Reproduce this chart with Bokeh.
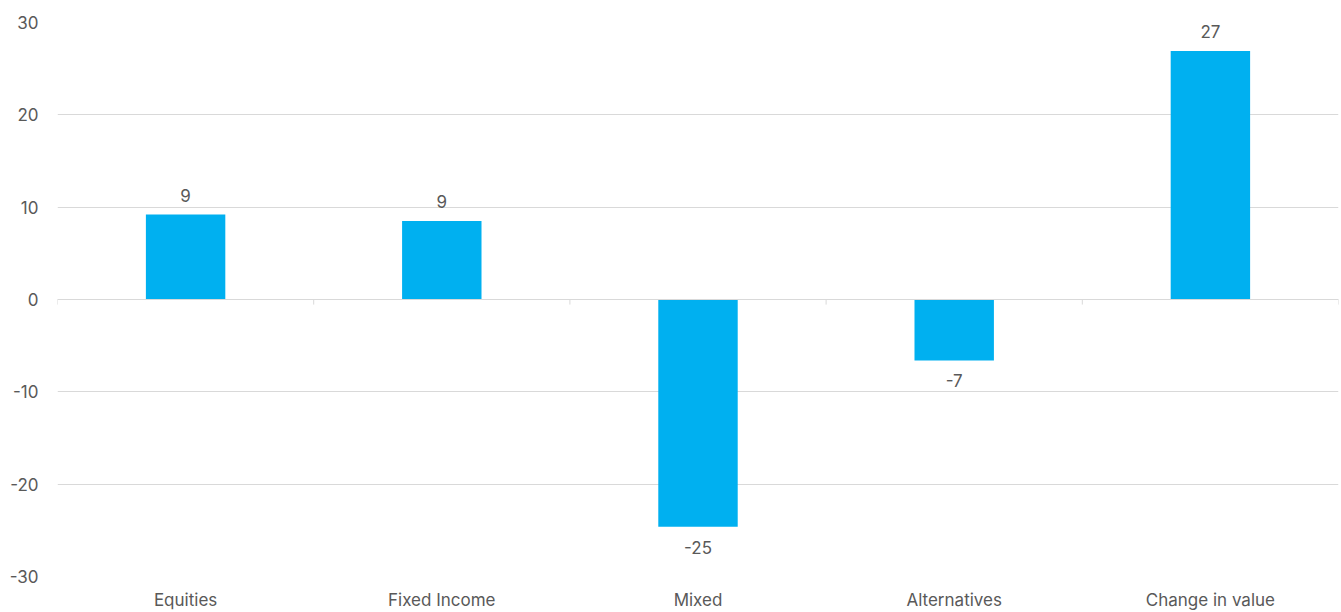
import math
from bokeh.plotting import figure
from bokeh.models import ColumnDataSource, FixedTicker, Span
from bokeh.core.properties import value
from bokeh.embed import file_html
from bokeh.resources import INLINE

# Net flows by asset class and the overall change in value
categories = ["Equities", "Fixed Income", "Mixed", "Alternatives", "Change in value"]
values = [9.2, 8.5, -24.6, -6.6, 26.9]
y_ticks = [-30, -20, -10, 0, 10, 20, 30]

FONT = "Inter"
FONT_SIZE = "17px"
TEXT_COLOR = "#595959"
BAR_COLOR = "#00B0F0"
GRID_COLOR = "#D9D9D9"


def half_up(v):
    return int(math.floor(abs(v) + 0.5)) * (1 if v >= 0 else -1)


x_pos = [i + 0.5 for i in range(len(categories))]
labels = [str(half_up(v)) for v in values]

p = figure(
    width=1341, height=612,
    x_range=(0, len(categories)), y_range=(-30, 30),
    output_backend="svg", toolbar_location=None,
    min_border_left=57, min_border_right=3, min_border_top=22, min_border_bottom=0,
)
p.outline_line_color = None
p.background_fill_color = "white"
p.border_fill_color = "white"

src = ColumnDataSource(dict(x=x_pos, top=values, label=labels))
p.vbar(x="x", top="top", bottom=0, width=0.31, source=src,
       fill_color=BAR_COLOR, line_color=None)

# value labels: above positive bars, below negative ones
pos = ColumnDataSource(dict(
    x=[x for x, v in zip(x_pos, values) if v >= 0],
    y=[v for v in values if v >= 0],
    t=[l for l, v in zip(labels, values) if v >= 0]))
neg = ColumnDataSource(dict(
    x=[x for x, v in zip(x_pos, values) if v < 0],
    y=[v for v in values if v < 0],
    t=[l for l, v in zip(labels, values) if v < 0]))
p.text(x="x", y="y", text="t", source=pos, text_align="center",
       text_baseline="bottom", y_offset=-13, text_font=value(FONT),
       text_font_size=FONT_SIZE, text_color=TEXT_COLOR)
p.text(x="x", y="y", text="t", source=neg, text_align="center",
       text_baseline="top", y_offset=14, text_font=value(FONT),
       text_font_size=FONT_SIZE, text_color=TEXT_COLOR)

# zero line and category separator ticks
p.add_layout(Span(location=0, dimension="width", line_color=GRID_COLOR, line_width=1))
bounds = list(range(len(categories) + 1))
p.segment(x0=bounds, x1=bounds, y0=[0] * len(bounds), y1=[-0.55] * len(bounds),
          line_color=GRID_COLOR, line_width=1)

# y axis
p.yaxis.ticker = FixedTicker(ticks=y_ticks)
p.yaxis.major_label_overrides = {t: str(t) for t in y_ticks}
p.yaxis.axis_line_color = None
p.yaxis.major_tick_line_color = None
p.yaxis.minor_tick_line_color = None
p.yaxis.major_tick_out = 0
p.yaxis.major_tick_in = 0
p.yaxis.major_label_text_font = FONT
p.yaxis.major_label_text_font_size = FONT_SIZE
p.yaxis.major_label_text_color = TEXT_COLOR
p.yaxis.major_label_standoff = 19

# x axis: category names at the bottom
p.xaxis.ticker = FixedTicker(ticks=x_pos)
p.xaxis.major_label_overrides = {x: c for x, c in zip(x_pos, categories)}
p.xaxis.axis_line_color = None
p.xaxis.major_tick_line_color = None
p.xaxis.minor_tick_line_color = None
p.xaxis.major_tick_out = 0
p.xaxis.major_tick_in = 0
p.xaxis.major_label_text_font = FONT
p.xaxis.major_label_text_font_size = FONT_SIZE
p.xaxis.major_label_text_color = TEXT_COLOR
p.xaxis.major_label_standoff = 13

p.xgrid.grid_line_color = None
p.ygrid.ticker = FixedTicker(ticks=y_ticks)
p.ygrid.grid_line_color = GRID_COLOR
p.ygrid.grid_line_width = 1

open("out.html", "w").write(file_html(p, INLINE))
